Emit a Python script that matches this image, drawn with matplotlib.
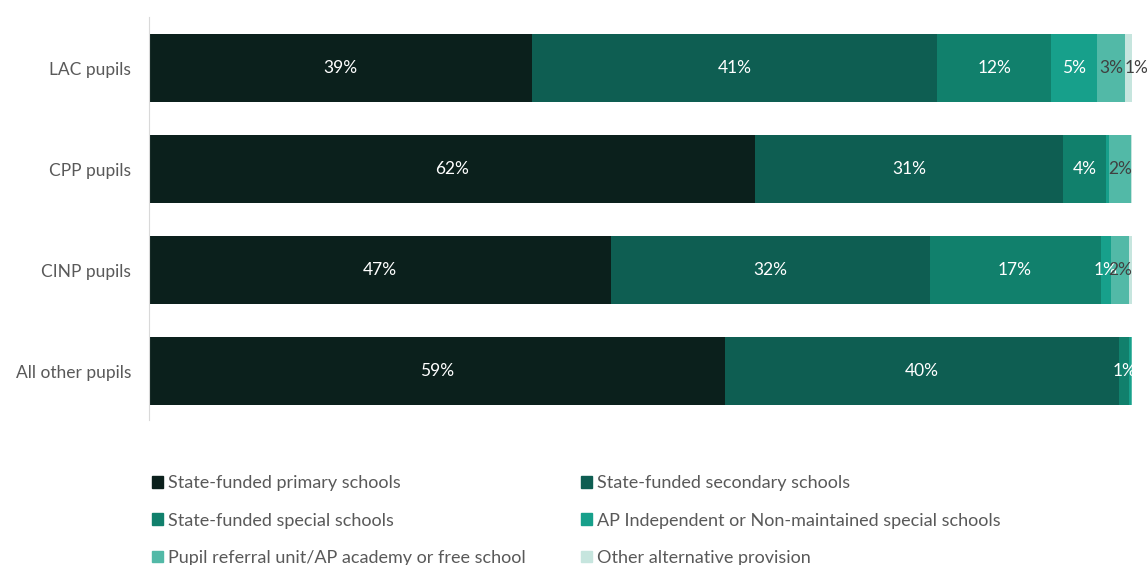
import numpy as np
import matplotlib.pyplot as plt
from matplotlib.patches import Patch

plt.rcParams['font.family'] = ['Lato', 'DejaVu Sans']

# categorias (de arriba a abajo)
grupos = ["LAC pupils", "CPP pupils", "CINP pupils", "All other pupils"]

# porcentaje por tipo de escuela
primaria   = [39.0, 61.6, 47.0, 58.6]
secundaria = [41.2, 31.4, 32.4, 40.1]
especial   = [11.6, 4.4, 17.4, 1.0]
ap_indep   = [4.6, 0.3, 1.1, 0.2]
pru        = [2.9, 2.2, 1.8, 0.1]
otra       = [0.8, 0.1, 0.3, 0.0]

series = {
    "State-funded primary schools": primaria,
    "State-funded secondary schools": secundaria,
    "State-funded special schools": especial,
    "AP Independent or Non-maintained special schools": ap_indep,
    "Pupil referral unit/AP academy or free school": pru,
    "Other alternative provision": otra,
}

colores = ["#0b201c", "#0e5e52", "#11806c", "#17a08b", "#52b9a7", "#c6e5de"]
color_texto = ["white", "white", "white", "white", "#404040", "#404040"]

fig = plt.figure(figsize=(11.47, 5.65), dpi=100)
ax = fig.add_axes([149/1147, 1 - 420/565, 983/1147, 403/565])

y = np.arange(len(grupos))
izq = np.zeros(len(grupos))
handles = []
for k, ((nombre, vals), col, tcol) in enumerate(zip(series.items(), colores, color_texto)):
    vals = np.array(vals)
    ax.barh(y, vals, left=izq, height=0.67, color=col)
    for i, v in enumerate(vals):
        if v >= 0.8:
            if k == 5:
                # segmento muy fino: etiqueta desde el borde izquierdo
                ax.text(izq[i], y[i], f"{round(v):.0f}%", ha='left', va='center',
                        color=tcol, fontsize=12.5)
            else:
                ax.text(izq[i] + v / 2, y[i], f"{round(v):.0f}%", ha='center', va='center',
                        color=tcol, fontsize=12.5)
    izq += vals
    handles.append(Patch(color=col, label=nombre))

ax.set_xlim(0, 100)
ax.set_ylim(3.485, -0.505)
ax.set_yticks(y)
ax.set_yticklabels(grupos, fontsize=12.5, color="#595959")
ax.set_xticks([])
ax.tick_params(axis='y', length=0, pad=13)
for s in ['top', 'right', 'bottom']:
    ax.spines[s].set_visible(False)
ax.spines['left'].set_color("#d9d9d9")

# orden por filas en dos columnas
orden = [0, 2, 4, 1, 3, 5]
leg = fig.legend([handles[i] for i in orden], [handles[i].get_label() for i in orden],
                 ncol=2, loc='upper left', bbox_to_anchor=(145/1147, 1 - 468/565),
                 frameon=False, fontsize=13, handlelength=0.6, handleheight=0.6,
                 handletextpad=0.25, columnspacing=3.1, labelspacing=1.18,
                 borderaxespad=0)
for t in leg.get_texts():
    t.set_color("#595959")

fig.savefig("out.png", dpi=100)
